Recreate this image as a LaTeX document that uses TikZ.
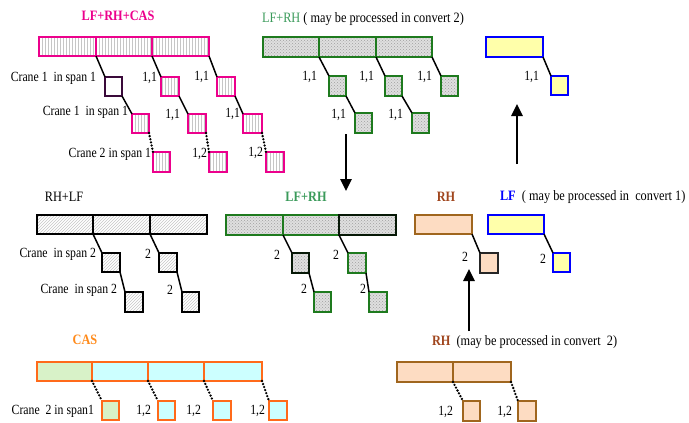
\documentclass[tikz,border=0pt]{standalone}
\usepackage{fontspec}
\setmainfont{Liberation Serif}
\newfontfamily\tnr[FakeStretch=0.84]{Liberation Serif}
\newfontfamily\tnrt[FakeStretch=0.86]{Liberation Serif}
\usetikzlibrary{patterns,arrows.meta}
\definecolor{dgreen}{HTML}{1E7A1E}
\definecolor{tgreen}{HTML}{3A9A5A}
\definecolor{dpurple}{HTML}{3A0A3A}
\definecolor{lyellow}{HTML}{FFFFAA}
\definecolor{peach}{HTML}{FDDCC2}
\definecolor{brownB}{HTML}{A0661E}
\definecolor{brownT}{HTML}{A0461E}
\definecolor{orangeB}{HTML}{FF6A1A}
\definecolor{orangeT}{HTML}{FF8A1A}
\definecolor{lcyan}{HTML}{CCFFFF}
\definecolor{lgreen}{HTML}{D8F2C8}
\newcommand\bx[6]{\node[#6, minimum width={(#4-#2)*1pt}, minimum height={(#5-#3)*1pt}] (#1) at ({(#2+#4)/2},{(#3+#5)/2}) {};}
\newcommand\lblfont{\tnr\fontsize{14}{16}\selectfont}
\newcommand\ttlfont{\tnrt\fontsize{14.3}{16}\selectfont}
\begin{document}
\begin{tikzpicture}[x=1pt,y=-1pt,
  every node/.style={inner sep=0pt, outer sep=0pt},
  mag/.style={draw=magenta, line width=2.8pt, pattern=vertical lines, pattern color=gray!45},
  magd/.style={draw=dpurple, line width=1.6pt},
  grn/.style={draw=dgreen, line width=2.6pt, preaction={fill=gray!25}, pattern=crosshatch dots, pattern color=gray!75},
  grnk/.style={draw=black!80!dgreen, line width=1.9pt, preaction={fill=gray!25}, pattern=crosshatch dots, pattern color=gray!75},
  blk/.style={draw=black, line width=1.1pt, pattern=north east lines, pattern color=gray!45},
  yel/.style={draw=blue, line width=2.8pt, fill=lyellow},
  pch/.style={draw=brownB, line width=2.8pt, fill=peach},
  pchk/.style={draw=black!85, line width=1.2pt, fill=peach},
  cya/.style={draw=orangeB, line width=2.8pt, fill=lcyan},
  lgr/.style={draw=orangeB, line width=2.8pt, fill=lgreen},
  con/.style={line width=1.5pt},
  dcon/.style={line width=2.6pt, dash pattern=on 0pt off 3.2pt, line cap=round},
  lbl/.style={font=\lblfont, anchor=east},
  ttl/.style={font=\ttlfont},
  bttl/.style={font=\ttlfont\bfseries},
  bigarrow/.style={line width=2.6pt, -{Triangle[length=12pt,width=11pt]}}
]
\useasboundingbox (0,0) rectangle (689,423);

% ---------- LF+RH+CAS (magenta) ----------
\node[bttl, text=magenta] (t1) at (118,16) {LF+RH+CAS};
\bx{ma}{39}{37}{96}{56}{mag}
\bx{mb}{96}{37}{152}{56}{mag}
\bx{mc}{152}{37}{209}{56}{mag}
\bx{m1a}{105}{77}{122}{96}{magd}
\bx{m1b}{161}{77}{179}{96}{mag}
\bx{m1c}{217}{77}{235}{96}{mag}
\bx{m2a}{132}{114}{149}{133}{mag}
\bx{m2b}{188}{114}{206}{133}{mag}
\bx{m2c}{243}{114}{262}{133}{mag}
\bx{m3a}{153}{152}{170}{172}{mag}
\bx{m3b}{209}{152}{227}{172}{mag}
\bx{m3c}{266}{152}{284}{172}{mag}
\draw[con] (ma.south east) -- (m1a.north west);
\draw[con] (mb.south east) -- (m1b.north west);
\draw[con] (mc.south east) -- (m1c.north west);
\draw[con] (m1a.south east) -- (m2a.north west);
\draw[con] (m1b.south east) -- (m2b.north west);
\draw[con] (m1c.south east) -- (m2c.north west);
\draw[dcon] (m2a.south east) -- (m3a.north west);
\draw[dcon] (m2b.south east) -- (m3b.north west);
\draw[dcon] (m2c.south east) -- (m3c.north west);
\node[lbl] (lm1) at (96,78) {Crane 1\ \ in span 1};
\node[lbl] (lm2) at (157,78) {1,1};
\node[lbl] (lm3) at (209,77) {1,1};
\node[lbl] (lm4) at (128,112) {Crane 1\ \ in span 1};
\node[lbl] (lm5) at (180,115) {1,1};
\node[lbl] (lm6) at (240,114) {1,1};
\node[lbl] (lm7) at (151,154) {Crane 2 in span 1};
\node[lbl] (lm8) at (207,154) {1,2};
\node[lbl] (lm9) at (263,153) {1,2};

% ---------- LF+RH top (green) ----------
\node[ttl, anchor=west] (t2) at (262,19) {\textcolor{tgreen}{LF+RH} ( may be processed in convert 2)};
\bx{ga}{263}{37}{319}{57}{grn}
\bx{gb}{319}{37}{376}{57}{grn}
\bx{gc}{376}{37}{432}{57}{grn}
\bx{g1a}{329}{76}{346}{96}{grn}
\bx{g1b}{385}{76}{402}{96}{grn}
\bx{g1c}{441}{76}{458}{96}{grn}
\bx{g2a}{355}{113}{372}{133}{grn}
\bx{g2b}{412}{113}{429}{133}{grn}
\draw[con] (ga.south east) -- (g1a.north west);
\draw[con] (gb.south east) -- (g1b.north west);
\draw[con] (gc.south east) -- (g1c.north west);
\draw[con] (g1a.south east) -- (g2a.north west);
\draw[con] (g1b.south east) -- (g2b.north west);
\node[lbl] (lg1) at (317,77) {1,1};
\node[lbl] (lg2) at (374,77) {1,1};
\node[lbl] (lg3) at (432,77) {1,1};
\node[lbl] (lg4) at (346,115) {1,1};
\node[lbl] (lg5) at (403,115) {1,1};

% ---------- top right (yellow/blue) ----------
\bx{ya}{486}{37}{543}{57}{yel}
\bx{y1}{551}{76}{568}{95}{yel}
\draw[con] (ya.south east) -- (y1.north west);
\node[lbl] (ly1) at (539,77) {1,1};

% ---------- arrows ----------
\coordinate (a1s) at (346,134);
\coordinate (a1e) at (346,191);
\coordinate (a2s) at (517,164);
\coordinate (a2e) at (517,104);
\coordinate (a3s) at (469,331);
\coordinate (a3e) at (469,269);
\draw[bigarrow] (a1s) -- (a1e);
\draw[bigarrow] (a2s) -- (a2e);
\draw[bigarrow] (a3s) -- (a3e);

% ---------- RH+LF (black) ----------
\node[ttl] (t3) at (64,197) {RH+LF};
\bx{ka}{37}{215}{93}{234}{blk}
\bx{kb}{93}{215}{150}{234}{blk}
\bx{kc}{150}{215}{207}{234}{blk}
\bx{k1a}{102}{253}{120}{272}{blk}
\bx{k1b}{159}{253}{177}{272}{blk}
\bx{k2a}{125}{292}{143}{312}{blk}
\bx{k2b}{182}{292}{199}{312}{blk}
\draw[con] (ka.south east) -- (k1a.north west);
\draw[con] (kb.south east) -- (k1b.north west);
\draw[con] (k1a.south east) -- (k2a.north west);
\draw[con] (k1b.south east) -- (k2b.north west);
\node[lbl] (lk1) at (96,254) {Crane\ \ in span 2};
\node[lbl] (lk2) at (151,254) {2};
\node[lbl] (lk3) at (117,290) {Crane\ \ in span 2};
\node[lbl] (lk4) at (173,290) {2};

% ---------- LF+RH middle (green) ----------
\node[bttl, text=tgreen] (t4) at (306,197) {LF+RH};
\bx{ha}{226}{215}{283}{235}{grn}
\bx{hb}{283}{215}{339}{235}{grn}
\bx{hc}{339}{215}{396}{235}{grnk}
\bx{h1a}{292}{253}{309}{273}{grnk}
\bx{h1b}{348}{253}{366}{273}{grn}
\bx{h2a}{314}{292}{331}{312}{grn}
\bx{h2b}{369}{292}{387}{312}{grn}
\draw[con] (ha.south east) -- (h1a.north west);
\draw[con] (hb.south east) -- (h1b.north west);
\draw[con] (h1a.south east) -- (h2a.north west);
\draw[con] (h1b.south east) -- (h2b.north west);
\node[lbl] (lh1) at (280,255) {2};
\node[lbl] (lh2) at (339,255) {2};
\node[lbl] (lh3) at (307,289) {2};
\node[lbl] (lh4) at (366,289) {2};

% ---------- RH / LF middle right ----------
\node[bttl, text=brownT] (t5) at (446,197) {RH};
\node[ttl, anchor=west] (t6) at (500,197) {\textcolor{blue}{\textbf{LF}}\ \ ( may be processed in\ \ convert 1)};
\bx{ra}{415}{215}{472}{234}{pch}
\bx{r1}{480}{253}{498}{273}{pchk}
\draw[con] (ra.south east) -- (r1.north west);
\node[lbl] (lr1) at (468,257) {2};
\bx{la}{488}{215}{544}{234}{yel}
\bx{l1}{553}{253}{570}{272}{yel}
\draw[con] (la.south east) -- (l1.north west);
\node[lbl] (ll1) at (546,259) {2};

% ---------- CAS (orange) ----------
\node[bttl, text=orangeT] (t7) at (85,340) {CAS};
\bx{ca}{37}{362}{92}{381}{lgr}
\bx{cb}{92}{362}{148}{381}{cya}
\bx{cc}{148}{362}{204}{381}{cya}
\bx{cd}{204}{362}{262}{381}{cya}
\bx{c1}{102}{401}{119}{420}{lgr}
\bx{c2}{158}{401}{175}{420}{cya}
\bx{c3}{213}{401}{231}{420}{cya}
\bx{c4}{269}{401}{287}{420}{cya}
\draw[dcon] (ca.south east) -- (c1.north west);
\draw[dcon] (cb.south east) -- (c2.north west);
\draw[dcon] (cc.south east) -- (c3.north west);
\draw[dcon] (cd.south east) -- (c4.north west);
\node[lbl] (lc1) at (94,411) {Crane\ \ 2 in span1};
\node[lbl] (lc2) at (151,411) {1,2};
\node[lbl] (lc3) at (201,411) {1,2};
\node[lbl] (lc4) at (265,411) {1,2};

% ---------- RH bottom (brown) ----------
\node[ttl, anchor=west] (t8) at (432,342) {\textcolor{brownT}{\textbf{RH}}\ \ (may be processed in convert\ \ 2)};
\bx{sa}{397}{362}{453}{382}{pch}
\bx{sb}{453}{362}{511}{382}{pch}
\bx{s1}{463}{401}{480}{421}{pch}
\bx{s2}{518}{401}{536}{421}{pch}
\draw[dcon] (sa.south east) -- (s1.north west);
\draw[dcon] (sb.south east) -- (s2.north west);
\node[lbl] (ls1) at (453,412) {1,2};
\node[lbl] (ls2) at (512,412) {1,2};
\end{tikzpicture}
\end{document}
